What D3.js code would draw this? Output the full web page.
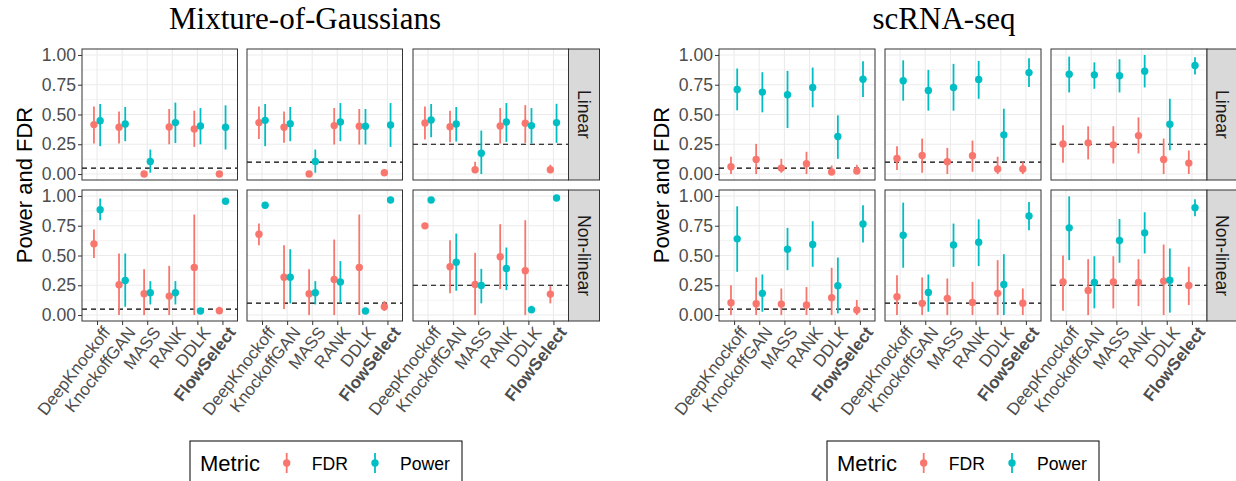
<!DOCTYPE html>
<html lang="en">
<head>
<meta charset="UTF-8">
<title>Power and FDR</title>
<script src="https://d3js.org/d3.v7.min.js"></script>
<style>
  body { margin: 0; background: #fff; }
  svg { display: block; font-family: "Liberation Sans", Arial, sans-serif; }
</style>
</head>
<body>
<svg width="1236" height="481"></svg>
<script>
// categories and facets
const methods = ["DeepKnockoff", "KnockoffGAN", "MASS", "RANK", "DDLK", "FlowSelect"];
const nominal = [0.05, 0.1, 0.25];
const rows = ["Linear", "Non-linear"];
const yTicks = [0, 0.25, 0.5, 0.75, 1];
const metrics = ["FDR", "Power"];

// panels listed row by row: Linear (0.05, 0.1, 0.25), Non-linear (0.05, 0.1, 0.25)
const mogFdr = [
  [0.415, 0.393, 0.0, 0.395, 0.379, 0.0],
  [0.432, 0.393, 0.0, 0.407, 0.401, 0.011],
  [0.429, 0.398, 0.036, 0.404, 0.426, 0.036],
  [0.598, 0.254, 0.179, 0.159, 0.40, 0.036],
  [0.679, 0.318, 0.179, 0.299, 0.40, 0.07],
  [0.749, 0.405, 0.257, 0.489, 0.372, 0.176]
];
const mogFdrLo = [
  [0.256, 0.256, 0.0, 0.25, 0.228, 0.0],
  [0.295, 0.262, 0.0, 0.248, 0.248, 0.0],
  [0.29, 0.267, 0.011, 0.256, 0.262, 0.011],
  [0.48, 0.0, 0.0, 0.0, 0.0, 0.014],
  [0.587, 0.05, 0.0, 0.0, 0.0, 0.034],
  [0.745, 0.182, 0.0, 0.218, 0.0, 0.098]
];
const mogFdrHi = [
  [0.568, 0.526, 0.0, 0.546, 0.532, 0.0],
  [0.568, 0.526, 0.0, 0.554, 0.546, 0.03],
  [0.568, 0.532, 0.103, 0.554, 0.579, 0.078],
  [0.718, 0.517, 0.385, 0.413, 0.844, 0.07],
  [0.768, 0.587, 0.385, 0.634, 0.844, 0.117],
  [0.753, 0.628, 0.522, 0.763, 0.796, 0.243]
];
const mogPow = [
  [0.448, 0.42, 0.106, 0.432, 0.404, 0.393],
  [0.451, 0.423, 0.106, 0.437, 0.401, 0.412],
  [0.454, 0.42, 0.175, 0.437, 0.407, 0.432],
  [0.885, 0.29, 0.187, 0.187, 0.034, 0.955],
  [0.922, 0.318, 0.187, 0.277, 0.034, 0.966],
  [0.966, 0.444, 0.249, 0.391, 0.045, 0.983]
];
const mogPowLo = [
  [0.234, 0.276, 0.011, 0.26, 0.25, 0.206],
  [0.234, 0.276, 0.011, 0.276, 0.248, 0.228],
  [0.309, 0.273, 0.0, 0.27, 0.256, 0.262],
  [0.796, 0.07, 0.089, 0.089, 0.025, 0.93],
  [0.91, 0.098, 0.089, 0.098, 0.025, 0.955],
  [0.96, 0.204, 0.098, 0.209, 0.02, 0.975]
];
const mogPowHi = [
  [0.588, 0.563, 0.206, 0.6, 0.554, 0.577],
  [0.588, 0.563, 0.206, 0.596, 0.546, 0.596],
  [0.588, 0.563, 0.365, 0.596, 0.554, 0.59],
  [0.978, 0.517, 0.285, 0.285, 0.043, 0.978],
  [0.935, 0.553, 0.285, 0.453, 0.043, 0.977],
  [0.975, 0.684, 0.388, 0.567, 0.078, 0.99]
];

const scFdr = [
  [0.061, 0.123, 0.05, 0.086, 0.017, 0.025],
  [0.131, 0.156, 0.103, 0.153, 0.042, 0.042],
  [0.253, 0.262, 0.245, 0.323, 0.123, 0.092],
  [0.103, 0.095, 0.092, 0.084, 0.145, 0.042],
  [0.154, 0.098, 0.14, 0.106, 0.182, 0.1],
  [0.277, 0.207, 0.277, 0.274, 0.285, 0.249]
];
const scFdrLo = [
  [0.0, 0.0, 0.011, 0.0, 0.0, 0.0],
  [0.033, 0.011, 0.0, 0.019, 0.0, 0.0],
  [0.095, 0.123, 0.089, 0.173, 0.0, 0.0],
  [0.0, 0.0, 0.0, 0.0, 0.0, 0.0],
  [0.0, 0.0, 0.0, 0.0, 0.0, 0.0],
  [0.036, 0.0, 0.056, 0.075, 0.0, 0.084]
];
const scFdrHi = [
  [0.145, 0.253, 0.128, 0.187, 0.072, 0.078],
  [0.234, 0.298, 0.22, 0.281, 0.145, 0.1],
  [0.41, 0.401, 0.401, 0.476, 0.298, 0.198],
  [0.251, 0.316, 0.223, 0.235, 0.397, 0.126],
  [0.335, 0.316, 0.307, 0.279, 0.461, 0.223],
  [0.5, 0.469, 0.494, 0.469, 0.592, 0.405]
];
const scPow = [
  [0.71, 0.688, 0.666, 0.727, 0.315, 0.797],
  [0.783, 0.702, 0.727, 0.794, 0.329, 0.852],
  [0.838, 0.833, 0.825, 0.864, 0.418, 0.911],
  [0.64, 0.182, 0.553, 0.592, 0.246, 0.765],
  [0.67, 0.19, 0.589, 0.612, 0.257, 0.832],
  [0.732, 0.274, 0.626, 0.69, 0.293, 0.902]
];
const scPowLo = [
  [0.535, 0.518, 0.387, 0.56, 0.128, 0.646],
  [0.616, 0.532, 0.532, 0.632, 0.111, 0.73],
  [0.685, 0.716, 0.685, 0.727, 0.2, 0.836],
  [0.363, 0.028, 0.377, 0.405, 0.014, 0.609],
  [0.397, 0.028, 0.405, 0.411, 0.0, 0.712],
  [0.461, 0.056, 0.439, 0.517, 0.02, 0.83]
];
const scPowHi = [
  [0.886, 0.855, 0.866, 0.894, 0.493, 0.947],
  [0.955, 0.875, 0.925, 0.95, 0.549, 0.972],
  [0.986, 0.938, 0.964, 1.0, 0.632, 0.98],
  [0.913, 0.341, 0.732, 0.788, 0.483, 0.922],
  [0.944, 0.341, 0.768, 0.804, 0.511, 0.95],
  [0.997, 0.494, 0.807, 0.863, 0.559, 0.972]
];

const color = d3.scaleOrdinal().domain(metrics).range(["#F8766D", "#00BFC4"]);
const svg = d3.select("svg");

// layout of the two figures
const panelTops = [49, 190];
const panelH = 131;
const figures = [
  { title: "Mixture-of-Gaussians", titleX: 305, xs: [82, 247, 413], w: 155.5, stripW: 31,
    fdr: [mogFdr, mogFdrLo, mogFdrHi], pow: [mogPow, mogPowLo, mogPowHi], dx: 0 },
  { title: "scRNA-seq", titleX: 944, xs: [719, 885, 1051], w: 156, stripW: 30,
    fdr: [scFdr, scFdrLo, scFdrHi], pow: [scPow, scPowLo, scPowHi], dx: 637 }
];

function drawFigure(fig) {
  const g = svg.append("g");

  g.append("text")
    .attr("x", fig.titleX).attr("y", 29)
    .attr("text-anchor", "middle")
    .style("font-family", "'Liberation Serif', 'Times New Roman', serif")
    .style("font-size", "31px")
    .attr("fill", "#000")
    .text(fig.title);

  g.append("text")
    .attr("transform", `translate(${fig.xs[0] - 50},${(panelTops[0] + panelTops[1] + panelH) / 2}) rotate(-90)`)
    .attr("text-anchor", "middle")
    .style("font-size", "22px")
    .attr("fill", "#000")
    .text("Power and FDR");

  rows.forEach((rowName, r) => {
    const top = panelTops[r];
    const y = d3.scaleLinear().domain([-0.05, 1.05]).range([top + panelH, top]);

    nominal.forEach((alpha, c) => {
      const x0 = fig.xs[c];
      const x = d3.scalePoint().domain(methods).range([x0, x0 + fig.w]).padding(0.6);
      const k = r * 3 + c;
      const p = g.append("g");

      p.append("rect")
        .attr("x", x0).attr("y", top).attr("width", fig.w).attr("height", panelH)
        .attr("fill", "#fff");

      // minor grid
      p.selectAll(".minor").data([0.125, 0.375, 0.625, 0.875]).join("line")
        .attr("x1", x0).attr("x2", x0 + fig.w)
        .attr("y1", d => y(d)).attr("y2", d => y(d))
        .attr("stroke", "#EBEBEB").attr("stroke-width", 0.6);
      // major grid
      p.selectAll(".hmajor").data(yTicks).join("line")
        .attr("x1", x0).attr("x2", x0 + fig.w)
        .attr("y1", d => y(d)).attr("y2", d => y(d))
        .attr("stroke", "#EBEBEB").attr("stroke-width", 1.1);
      p.selectAll(".vmajor").data(methods).join("line")
        .attr("x1", d => x(d)).attr("x2", d => x(d))
        .attr("y1", top).attr("y2", top + panelH)
        .attr("stroke", "#EBEBEB").attr("stroke-width", 1.1);

      // nominal level
      p.append("line")
        .attr("x1", x0).attr("x2", x0 + fig.w)
        .attr("y1", y(alpha)).attr("y2", y(alpha))
        .attr("stroke", "#000").attr("stroke-width", 1.2)
        .attr("stroke-dasharray", "5,4");

      const pts = [];
      metrics.forEach((m, mi) => {
        const src = m === "FDR" ? fig.fdr : fig.pow;
        methods.forEach((meth, i) => {
          pts.push({ metric: m, method: meth, off: mi === 0 ? -3.1 : 3.1,
            v: src[0][k][i], lo: src[1][k][i], hi: src[2][k][i] });
        });
      });

      p.selectAll(".range").data(pts).join("line")
        .attr("x1", d => x(d.method) + d.off).attr("x2", d => x(d.method) + d.off)
        .attr("y1", d => y(d.lo)).attr("y2", d => y(d.hi))
        .attr("stroke", d => color(d.metric)).attr("stroke-width", 1.8);
      p.selectAll(".pt").data(pts).join("circle")
        .attr("cx", d => x(d.method) + d.off).attr("cy", d => y(d.v))
        .attr("r", 3.7)
        .attr("fill", d => color(d.metric));

      p.append("rect")
        .attr("x", x0).attr("y", top).attr("width", fig.w).attr("height", panelH)
        .attr("fill", "none").attr("stroke", "#333").attr("stroke-width", 1);

      if (c === 0) {
        const ax = p.append("g")
          .attr("transform", `translate(${x0},0)`)
          .call(d3.axisLeft(y).tickValues(yTicks).tickFormat(d3.format(".2f")).tickSize(4).tickPadding(2));
        ax.select(".domain").remove();
        ax.selectAll("line").attr("stroke", "#333");
        ax.selectAll("text").attr("fill", "#4D4D4D").style("font-size", "17.6px")
          .style("font-family", "'Liberation Sans', Arial, sans-serif");
      }

      if (r === 1) {
        const ax = p.append("g")
          .attr("transform", `translate(0,${top + panelH})`)
          .call(d3.axisBottom(x).tickSize(4).tickPadding(2));
        ax.select(".domain").remove();
        ax.selectAll("line").attr("stroke", "#333");
        ax.selectAll("text")
          .attr("fill", "#4D4D4D")
          .style("font-size", "17px")
          .style("font-family", "'Liberation Sans', Arial, sans-serif")
          .style("font-weight", d => d === "FlowSelect" ? "bold" : "normal")
          .attr("text-anchor", "end")
          .attr("dy", "0.72em")
          .attr("transform", "translate(4,4) rotate(-52)")
          .attr("y", 0);
      }
    });

    // strip
    const sx = fig.xs[2] + fig.w;
    g.append("rect")
      .attr("x", sx).attr("y", top).attr("width", fig.stripW).attr("height", panelH)
      .attr("fill", "#D9D9D9").attr("stroke", "#333").attr("stroke-width", 1);
    g.append("text")
      .attr("transform", `translate(${sx + fig.stripW / 2},${top + panelH / 2}) rotate(90)`)
      .attr("text-anchor", "middle")
      .attr("dy", "0.36em")
      .style("font-size", "17.6px")
      .attr("fill", "#1A1A1A")
      .text(rowName);
  });

  // legend
  const lg = g.append("g").attr("transform", `translate(${190 + fig.dx},441)`);
  lg.append("rect").attr("width", 272).attr("height", 60)
    .attr("fill", "#fff").attr("stroke", "#000").attr("stroke-width", 1);
  lg.append("text").attr("x", 10).attr("y", 30)
    .style("font-size", "22px").attr("fill", "#000").text("Metric");
  const keyX = [96.7, 185];
  metrics.forEach((m, i) => {
    lg.append("line").attr("x1", keyX[i]).attr("x2", keyX[i]).attr("y1", 12).attr("y2", 32)
      .attr("stroke", color(m)).attr("stroke-width", 1.8);
    lg.append("circle").attr("cx", keyX[i]).attr("cy", 22).attr("r", 3.7).attr("fill", color(m));
    lg.append("text").attr("x", keyX[i] + 25).attr("y", 28.5)
      .style("font-size", "17.6px").attr("fill", "#000").text(m);
  });
}

figures.forEach(drawFigure);
</script>
</body>
</html>
